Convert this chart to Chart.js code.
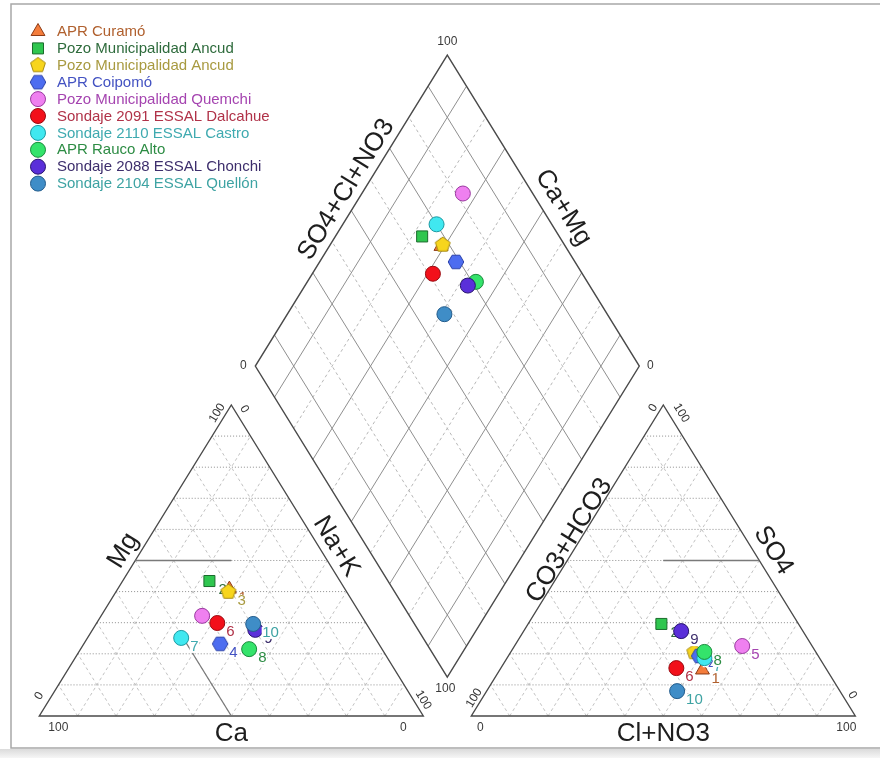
<!DOCTYPE html>
<html>
<head>
<meta charset="utf-8">
<script src="https://cdn.jsdelivr.net/npm/chart.js@4.4.1/dist/chart.umd.min.js"></script>
<style>
html,body{margin:0;padding:0;background:#fff;}
#wrap{width:880px;height:758px;position:relative;}
</style>
</head>
<body>
<div id="wrap"><canvas id="c"></canvas></div>
<script>
// ---------- DATA ----------
const samples = ['APR Curamó','Pozo Municipalidad Ancud','Pozo Municipalidad Ancud','APR Coipomó','Pozo Municipalidad Quemchi','Sondaje 2091 ESSAL Dalcahue','Sondaje 2110 ESSAL Castro','APR Rauco Alto','Sondaje 2088 ESSAL Chonchi','Sondaje 2104 ESSAL Quellón'];
const sampleNumbers = ['1','2','3','4','5','6','7','8','9','10'];
// cations (% meq/L)
const caPct  = [30.1, 34.0, 30.8, 41.3, 41.5, 38.7, 50.5, 34.6, 29.9, 29.5];
const mgPct  = [40.8, 43.4, 39.9, 23.2, 32.2, 29.9, 25.1, 21.5, 27.7, 29.6];
const naKPct = [29.1, 22.6, 29.3, 35.5, 26.3, 31.4, 24.4, 43.9, 42.4, 40.9];
// anions (% meq/L)
const hco3Pct = [32.4, 35.7, 31.7, 31.0, 18.2, 38.9, 30.0, 29.0, 31.7, 42.4];
const so4Pct  = [14.8, 29.6, 20.5, 19.3, 22.5, 15.4, 18.6, 20.6, 27.3,  8.0];
const clPct   = [52.8, 34.7, 47.8, 49.7, 59.3, 45.7, 51.4, 50.4, 41.0, 49.6];
const gridSteps = [10,20,30,40,50,60,70,80,90];
const tickZero = '0', tickHundred = '100';
const axisTitles = {cat1:'Mg', cat2:'Na+K', catBase:'Ca', an1:'CO3+HCO3', an2:'SO4', anBase:'Cl+NO3', dia1:'SO4+Cl+NO3', dia2:'Ca+Mg'};

// ---------- STYLES ----------
const fillColors   = ['#f47d3c','#2fc64f','#f7d51d','#4d6df0','#ef80f0','#f2101a','#40e8f0','#34e36b','#5a2fd9','#3f8dc7'];
const borderColors = ['#8c3b16','#1a6b2c','#a88b10','#2a40a8','#9a3aa0','#9a0a10','#1b9aa3','#1a8a3c','#281470','#235c8c'];
const textColors   = ['#b0602e','#2e6b3c','#a89a40','#4352c2','#a544b0','#b03248','#3faab0','#2d8c44','#3d2e6c','#3ea3a3'];
const markerShapes = ['triangle','rect','pentagon','hexagon','circle','circle','circle','circle','circle','circle'];
const markerRadius = [8, 7.8, 7.8, 7.8, 7.5, 7.5, 7.5, 7.5, 7.5, 7.5];
const FONT = '"Liberation Sans", Arial, sans-serif';

// ---------- GEOMETRY (piper units: triangle side = 100) ----------
const H = Math.sqrt(3)/2, GAP = 12.5;
const cationXY = (mg, na) => ({x: na + mg/2, y: mg*H});
const anionXY  = (so4, cl) => ({x: 100 + GAP + cl + so4/2, y: so4*H});
const DB = {x: 100 + GAP/2, y: GAP*H};
const diamondXY = (u, v) => ({x: DB.x + 50*u - 50*v, y: DB.y + 100*H*(u+v)});

function polyCanvas(sides, r, fill, stroke, rot) {
  const s = Math.ceil(2*r + 4), c = document.createElement('canvas');
  c.width = s; c.height = s;
  const g = c.getContext('2d');
  g.beginPath();
  for (let i = 0; i < sides; i++) {
    const a = rot + i*2*Math.PI/sides;
    const px = s/2 + r*Math.cos(a), py = s/2 + r*Math.sin(a);
    if (i === 0) g.moveTo(px, py); else g.lineTo(px, py);
  }
  g.closePath(); g.fillStyle = fill; g.fill();
  g.lineWidth = 1; g.strokeStyle = stroke; g.stroke();
  return c;
}
function styleFor(i) {
  const sh = markerShapes[i];
  if (sh === 'pentagon') return polyCanvas(5, markerRadius[i], fillColors[i], borderColors[i], -Math.PI/2);
  if (sh === 'hexagon') return polyCanvas(6, markerRadius[i], fillColors[i], borderColors[i], 0);
  return sh;
}

const datasets = samples.map((name, i) => ({
  label: name,
  data: [
    cationXY(mgPct[i], naKPct[i]),
    anionXY(so4Pct[i], clPct[i]),
    diamondXY((clPct[i] + so4Pct[i])/100, (caPct[i] + mgPct[i])/100)
  ],
  pointStyle: styleFor(i),
  pointRadius: markerRadius[i],
  pointHoverRadius: markerRadius[i],
  backgroundColor: fillColors[i],
  borderColor: borderColors[i],
  borderWidth: 1,
  showLine: false,
  order: samples.length - i
}));

// pixel layout of the piper units on the 880x758 canvas
const X_PX0 = 39.3, X_PPU = 3.84, Y_PX0 = 716, Y_PPU = 311/86.6;

const piperPlugin = {
  id: 'piper',
  beforeDraw(chart) {
    const ctx = chart.ctx, W = chart.width, Hh = chart.height;
    ctx.save();
    ctx.fillStyle = '#fff'; ctx.fillRect(0, 0, W, Hh);
    const grd = ctx.createLinearGradient(0, 748, 0, Hh);
    grd.addColorStop(0, '#d8d8d8'); grd.addColorStop(1, '#f6f6f6');
    ctx.fillStyle = grd; ctx.fillRect(0, 749, W, Hh - 749);
    ctx.strokeStyle = '#a8a8a8'; ctx.lineWidth = 1.5;
    ctx.beginPath(); ctx.moveTo(W + 2, 4); ctx.lineTo(11, 4); ctx.lineTo(11, 748); ctx.lineTo(W + 2, 748); ctx.stroke();
    ctx.restore();
  },
  beforeDatasetsDraw(chart) {
    const ctx = chart.ctx, xs = chart.scales.x, ys = chart.scales.y;
    const P = (p) => [xs.getPixelForValue(p.x), ys.getPixelForValue(p.y)];
    const seg = (a, b) => { const A = P(a), B = P(b); ctx.beginPath(); ctx.moveTo(A[0], A[1]); ctx.lineTo(B[0], B[1]); ctx.stroke(); };
    const poly = (pts) => { ctx.beginPath(); pts.forEach((p, k) => { const A = P(p); if (k) ctx.lineTo(A[0], A[1]); else ctx.moveTo(A[0], A[1]); }); ctx.closePath(); ctx.stroke(); };
    ctx.save();
    // triangles
    [0, 100 + GAP].forEach(ox => {
      gridSteps.forEach(k => {
        ctx.setLineDash([3, 3]); ctx.strokeStyle = '#c2c2c2'; ctx.lineWidth = 1;
        seg({x: ox + k, y: 0}, {x: ox + k/2, y: k*H});
        seg({x: ox + k, y: 0}, {x: ox + k + (100 - k)/2, y: (100 - k)*H});
        ctx.setLineDash([1, 2]); ctx.strokeStyle = '#8e8e8e';
        seg({x: ox + k/2, y: k*H}, {x: ox + 100 - k/2, y: k*H});
      });
      ctx.setLineDash([]); ctx.strokeStyle = '#4a4a4a'; ctx.lineWidth = 1.4;
      poly([{x: ox, y: 0}, {x: ox + 100, y: 0}, {x: ox + 50, y: 100*H}]);
    });
    // classification segments
    ctx.setLineDash([]); ctx.strokeStyle = '#7a7a7a'; ctx.lineWidth = 1.3;
    seg({x: 25, y: 50*H}, {x: 50, y: 50*H});
    seg({x: 50, y: 0}, {x: 37.5, y: 25*H});
    seg({x: 100 + GAP + 50, y: 50*H}, {x: 100 + GAP + 75, y: 50*H});
    // diamond
    gridSteps.forEach(k => {
      const f = k/100;
      if ((k/10) % 2 === 1) { ctx.setLineDash([]); ctx.strokeStyle = '#8f8f8f'; }
      else { ctx.setLineDash([3, 3]); ctx.strokeStyle = '#b8b8b8'; }
      ctx.lineWidth = 1;
      seg(diamondXY(f, 0), diamondXY(f, 1));
      seg(diamondXY(0, f), diamondXY(1, f));
    });
    ctx.setLineDash([]); ctx.strokeStyle = '#4a4a4a'; ctx.lineWidth = 1.4;
    poly([diamondXY(0, 0), diamondXY(1, 0), diamondXY(1, 1), diamondXY(0, 1)]);

    // angles of edges in pixel space
    const ang = (a, b) => { const A = P(a), B = P(b); return Math.atan2(B[1] - A[1], B[0] - A[0]); };
    const upAng = ang({x: 0, y: 0}, {x: 50, y: 100*H});
    const downAng = ang({x: 50, y: 100*H}, {x: 100, y: 0});
    const txt = (s, p, dx, dy, rot, font, color) => {
      const A = P(p);
      ctx.save(); ctx.translate(A[0] + dx, A[1] + dy); ctx.rotate(rot);
      ctx.font = font; ctx.fillStyle = color; ctx.textAlign = 'center'; ctx.textBaseline = 'middle';
      ctx.fillText(s, 0, 0); ctx.restore();
    };
    const tf = '12px ' + FONT, tc = '#3a3a3a';
    // cation ticks
    txt(tickHundred, {x: 50, y: 100*H}, -14, 8, upAng, tf, tc);
    txt(tickZero, {x: 50, y: 100*H}, 13, 4, downAng, tf, tc);
    txt(tickZero, {x: 0, y: 0}, 0, -20, upAng, tf, tc);
    txt(tickHundred, {x: 0, y: 0}, 19, 12, 0, tf, tc);
    txt(tickZero, {x: 100, y: 0}, -20, 12, 0, tf, tc);
    txt(tickHundred, {x: 100, y: 0}, 0, -16, downAng, tf, tc);
    // anion ticks
    const ox = 100 + GAP;
    txt(tickZero, {x: ox + 50, y: 100*H}, -10, 3, upAng, tf, tc);
    txt(tickHundred, {x: ox + 50, y: 100*H}, 18, 8, downAng, tf, tc);
    txt(tickHundred, {x: ox, y: 0}, 3, -18, upAng, tf, tc);
    txt(tickZero, {x: ox, y: 0}, 9, 12, 0, tf, tc);
    txt(tickHundred, {x: ox + 100, y: 0}, -9, 12, 0, tf, tc);
    txt(tickZero, {x: ox + 100, y: 0}, -3, -21, downAng, tf, tc);
    // diamond ticks
    txt(tickHundred, diamondXY(1, 1), 0, -13, 0, tf, tc);
    txt(tickZero, diamondXY(0, 1), -12, 0, 0, tf, tc);
    txt(tickZero, diamondXY(1, 0), 11, 0, 0, tf, tc);
    txt(tickHundred, diamondXY(0, 0), -2, 12, 0, tf, tc);
    // axis titles
    const af = '26px ' + FONT, ac = '#1e1e1e';
    txt(axisTitles.cat1, {x: 25, y: 50*H}, -12, -10, upAng, af, ac);
    txt(axisTitles.cat2, {x: 75, y: 50*H}, 9, -14, downAng, af, ac);
    txt(axisTitles.catBase, {x: 50, y: 0}, 0, 18, 0, af, ac);
    txt(axisTitles.an1, {x: ox + 25, y: 50*H}, 2, -20, upAng, af, ac);
    txt(axisTitles.an2, {x: ox + 75, y: 50*H}, 14, -10, downAng, af, ac);
    txt(axisTitles.anBase, {x: ox + 50, y: 0}, 0, 18, 0, af, ac);
    txt(axisTitles.dia1, diamondXY(0.5, 1), -5, -21, upAng, af, ac);
    txt(axisTitles.dia2, diamondXY(1, 0.5), 20, -3, downAng, af, ac);
    ctx.restore();
  },
  afterDatasetDraw(chart, args) {
    const i = args.index, meta = args.meta, ctx = chart.ctx;
    ctx.save();
    ctx.font = '15px ' + FONT;
    ctx.textAlign = 'left'; ctx.textBaseline = 'middle';
    [0, 1].forEach(j => {
      const el = meta.data[j];
      const w = ctx.measureText(sampleNumbers[i]).width;
      const tx = el.x + 9, ty = el.y + 9;
      ctx.fillStyle = '#ffffff';
      ctx.fillRect(tx - 0.5, ty - 6, w + 1, 12);
      ctx.fillStyle = textColors[i];
      ctx.fillText(sampleNumbers[i], tx, ty);
    });
    ctx.restore();
  },
  afterDraw(chart) {
    const ctx = chart.ctx;
    ctx.save();
    chart.data.datasets.forEach((ds, i) => {
      const y = 31.5 + i*16.9;
      ctx.fillStyle = ds.backgroundColor; ctx.strokeStyle = ds.borderColor; ctx.lineWidth = 1;
      Chart.helpers.drawPoint(ctx, {pointStyle: ds.pointStyle, radius: ds.pointRadius, borderWidth: 1, rotation: 0}, 38, y);
      ctx.font = '15px ' + FONT; ctx.fillStyle = textColors[i];
      ctx.textAlign = 'left'; ctx.textBaseline = 'middle';
      ctx.fillText(ds.label, 57, y + 0.5);
    });
    ctx.restore();
  }
};

new Chart(document.getElementById('c'), {
  type: 'scatter',
  data: {datasets},
  options: {
    responsive: true,
    maintainAspectRatio: false,
    animation: false,
    events: [],
    layout: {padding: 0, autoPadding: false},
    plugins: {legend: {display: false}, tooltip: {enabled: false}},
    scales: {
      x: {type: 'linear', display: false, min: -X_PX0/X_PPU, max: (880 - X_PX0)/X_PPU},
      y: {type: 'linear', display: false, min: -(758 - Y_PX0)/Y_PPU, max: Y_PX0/Y_PPU}
    }
  },
  plugins: [piperPlugin]
});
</script>
</body>
</html>
